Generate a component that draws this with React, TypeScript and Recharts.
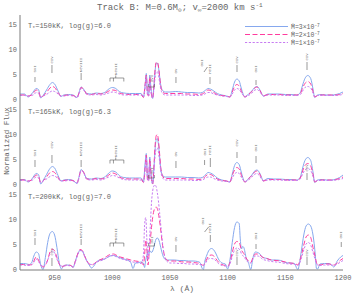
import React from 'react';
import { LineChart, Line, XAxis, YAxis, ReferenceLine, ReferenceDot, Customized } from 'recharts';

const FONT = '"Liberation Mono", "DejaVu Sans Mono", monospace';
const TXT = '#666';
const AX = '#7a7a7a';
const BLUE = '#86a8ee';
const PINK = '#ff3c9e';
const PURPLE = '#c77cf2';

// wavelength grid for the two upper panels (Å)
const waveA = [
  920, 924, 927, 930, 932, 934, 936, 938, 940, 943,
  946, 948, 950, 953, 955.5, 958, 962, 966, 969.5, 971,
  973, 975, 978, 982, 986, 990, 994, 997, 1000, 1003,
  1006, 1010, 1015, 1020, 1025, 1027, 1028.5, 1029.5, 1030.5, 1031.5,
  1032.5, 1033.5, 1035, 1036, 1037, 1038, 1039, 1040, 1041, 1042,
  1044, 1046, 1050, 1055, 1060, 1065, 1070, 1075, 1078, 1081,
  1083, 1085, 1088, 1091, 1095, 1099, 1102, 1104, 1106, 1108,
  1110, 1112, 1115, 1118, 1121, 1123, 1125.5, 1128, 1131, 1135,
  1140, 1145, 1150, 1155, 1160, 1163, 1165, 1167, 1169.5, 1172,
  1174, 1175.5, 1178, 1182, 1186, 1190, 1194, 1197, 1200,
];

// Panel 1: T=150kK, log g=6.0
const p1Mdot3 = [
  1.2, 1.2, 0.6, 1.2, 1.8, 2.3, 2.1, 0.4, 0.9, 2.0,
  3.1, 3.5, 3.2, 1.8, 0.7, 1.0, 1.1, 1.0, 0.5, 1.4,
  2.6, 2.2, 1.3, 1.2, 1.4, 1.3, 1.6, 2.2, 2.5, 2.3,
  1.7, 1.4, 1.3, 1.3, 1.3, 0.6, 3.0, 5.3, 1.5, 1.0,
  5.0, 2.5, 0.3, 2.5, 5.5, 7.3, 7.4, 6.6, 4.8, 3.0,
  1.8, 1.6, 1.6, 1.7, 1.6, 1.5, 1.5, 1.4, 1.5, 2.0,
  2.3, 2.2, 1.8, 1.3, 1.0, 0.8, 0.6, 2.0, 3.6, 4.2,
  3.8, 2.2, 0.6, 1.2, 1.8, 2.4, 2.7, 2.0, 0.8, 1.2,
  1.2, 1.2, 1.1, 1.1, 1.0, 1.5, 3.0, 4.3, 4.9, 4.3,
  2.2, 0.5, 1.0, 1.1, 1.0, 1.0, 1.1, 1.3, 1.6,
];
const p1Mdot2 = [
  1.0, 1.0, 0.8, 1.0, 1.5, 2.0, 1.8, 0.5, 0.8, 1.5,
  2.4, 2.7, 2.5, 1.5, 0.8, 0.9, 1.0, 0.9, 0.5, 1.3,
  2.5, 2.2, 1.2, 1.1, 1.3, 1.2, 1.4, 1.8, 2.0, 1.9,
  1.4, 1.2, 1.1, 1.1, 1.1, 0.5, 3.2, 5.0, 1.2, 0.8,
  4.6, 2.0, 0.3, 2.6, 5.8, 7.5, 7.6, 6.8, 4.8, 2.8,
  1.5, 1.3, 1.3, 1.3, 1.3, 1.2, 1.2, 1.1, 1.2, 1.7,
  2.0, 1.9, 1.5, 1.1, 0.9, 0.8, 0.6, 1.6, 2.7, 3.1,
  2.8, 1.7, 0.6, 1.1, 1.7, 2.3, 2.6, 1.9, 0.8, 1.1,
  1.1, 1.1, 1.0, 1.0, 1.0, 1.3, 2.4, 3.3, 3.7, 3.2,
  1.7, 0.6, 0.9, 1.0, 1.0, 1.0, 1.0, 1.1, 1.3,
];
const p1Mdot1 = [
  0.9, 0.9, 0.8, 0.9, 1.1, 1.5, 1.3, 0.6, 0.8, 1.1,
  1.6, 1.8, 1.7, 1.2, 0.8, 0.8, 0.9, 0.8, 0.5, 1.1,
  2.3, 2.0, 1.1, 1.0, 1.1, 1.0, 1.2, 1.4, 1.6, 1.5,
  1.2, 1.0, 1.0, 1.0, 1.0, 0.6, 2.5, 4.5, 1.0, 0.8,
  3.8, 1.6, 0.4, 2.0, 4.3, 5.6, 5.7, 5.0, 3.6, 2.2,
  1.2, 1.0, 1.0, 1.0, 1.0, 1.0, 0.9, 0.9, 1.0, 1.3,
  1.5, 1.5, 1.2, 1.0, 0.8, 0.7, 0.6, 1.2, 2.0, 2.3,
  2.1, 1.4, 0.7, 0.9, 1.4, 1.9, 2.1, 1.6, 0.8, 1.0,
  1.0, 1.0, 0.9, 0.9, 0.9, 1.1, 1.8, 2.5, 2.7, 2.4,
  1.4, 0.7, 0.9, 0.9, 0.9, 0.9, 0.9, 1.0, 1.1,
];

// Panel 2: T=165kK, log g=6.3
const p2Mdot3 = [
  1.1, 1.1, 0.6, 1.1, 1.8, 2.3, 2.1, 0.2, 0.9, 2.1,
  3.3, 3.7, 3.4, 1.9, 0.8, 1.0, 1.1, 0.9, 0.3, 1.5,
  3.1, 2.6, 1.3, 1.2, 1.4, 1.3, 1.7, 2.4, 2.8, 2.6,
  1.9, 1.5, 1.4, 1.4, 1.4, 0.6, 4.5, 6.3, 1.5, 1.0,
  5.6, 2.5, 0.2, 3.0, 6.8, 9.0, 9.3, 8.2, 5.8, 3.3,
  1.8, 1.6, 1.6, 1.6, 1.6, 1.5, 1.5, 1.4, 1.5, 2.1,
  2.5, 2.4, 2.0, 1.4, 1.0, 0.8, 0.6, 2.2, 3.9, 4.5,
  4.1, 2.4, 0.6, 1.3, 2.0, 2.7, 3.0, 2.3, 0.9, 1.3,
  1.2, 1.2, 1.1, 1.1, 1.0, 1.6, 3.4, 4.9, 5.5, 4.9,
  2.6, 0.5, 1.0, 1.1, 1.0, 1.0, 1.2, 1.5, 2.0,
];
const p2Mdot2 = [
  1.0, 1.0, 0.8, 1.0, 1.5, 2.0, 1.8, 0.4, 0.8, 1.6,
  2.5, 2.7, 2.5, 1.5, 0.8, 0.9, 1.0, 0.9, 0.4, 1.4,
  3.0, 2.6, 1.2, 1.1, 1.3, 1.2, 1.5, 2.0, 2.4, 2.2,
  1.6, 1.3, 1.2, 1.2, 1.2, 0.5, 3.5, 6.0, 1.2, 0.8,
  5.2, 2.2, 0.2, 3.2, 7.5, 9.8, 10.1, 9.0, 6.3, 3.5,
  1.6, 1.3, 1.3, 1.3, 1.3, 1.2, 1.2, 1.1, 1.2, 1.8,
  2.1, 2.1, 1.7, 1.2, 0.9, 0.8, 0.6, 1.9, 3.0, 3.5,
  3.2, 1.9, 0.6, 1.2, 1.9, 2.5, 2.8, 2.1, 0.8, 1.1,
  1.1, 1.1, 1.0, 1.0, 1.0, 1.4, 2.8, 3.9, 4.3, 3.8,
  2.1, 0.6, 0.9, 1.0, 1.0, 1.0, 1.1, 1.3, 1.6,
];
const p2Mdot1 = [
  0.9, 0.9, 0.8, 0.9, 1.2, 1.6, 1.4, 0.5, 0.8, 1.2,
  1.7, 1.9, 1.8, 1.3, 0.8, 0.8, 0.9, 0.8, 0.4, 1.2,
  2.9, 2.5, 1.1, 1.0, 1.1, 1.0, 1.3, 1.6, 1.9, 1.8,
  1.4, 1.1, 1.0, 1.0, 1.0, 0.6, 3.0, 5.5, 1.0, 0.8,
  4.5, 1.8, 0.3, 2.5, 5.6, 7.2, 7.4, 6.6, 4.8, 2.8,
  1.3, 1.0, 1.0, 1.0, 1.0, 1.0, 0.9, 0.9, 1.0, 1.4,
  1.6, 1.6, 1.3, 1.0, 0.8, 0.7, 0.6, 1.4, 2.2, 2.5,
  2.3, 1.5, 0.7, 1.0, 1.6, 2.1, 2.3, 1.7, 0.8, 1.0,
  1.0, 1.0, 0.9, 0.9, 0.9, 1.2, 2.2, 3.0, 3.3, 2.9,
  1.7, 0.7, 0.9, 0.9, 0.9, 0.9, 1.0, 1.1, 1.3,
];

// wavelength grid for the bottom panel (Å)
const waveB = [
  920, 923, 926, 928, 930, 932, 934, 936, 938, 940,
  942, 944, 946, 948, 950, 952, 954, 956, 958, 961,
  964, 966, 968, 970, 972, 974, 976, 978, 980, 982,
  984, 986, 989, 992, 995, 998, 1001, 1004, 1007, 1010,
  1013, 1016, 1018, 1020, 1023, 1025, 1027, 1028, 1029, 1030,
  1031, 1032, 1033, 1034, 1035, 1036, 1037, 1038, 1039, 1040,
  1041, 1042, 1044, 1046, 1048, 1050, 1054, 1058, 1062, 1066,
  1070, 1074, 1076, 1078, 1079, 1080, 1082, 1084, 1086, 1088,
  1090, 1092, 1095, 1098, 1100, 1102, 1104, 1106, 1108, 1110,
  1111, 1112, 1113, 1114, 1116, 1118, 1120, 1122, 1124, 1126,
  1128, 1130, 1134, 1138, 1142, 1146, 1150, 1154, 1158, 1160,
  1161, 1162, 1164, 1166, 1168, 1170, 1172, 1174, 1176, 1177,
  1178, 1180, 1184, 1188, 1190, 1192, 1195, 1198, 1200,
];

// Panel 3: T=200kK, log g=7.0
const p3Mdot3 = [
  1.3, 1.3, 1.2, 1.1, 1.4, 2.8, 3.6, 3.3, 1.0, 0.1,
  2.5, 5.5, 7.3, 7.7, 7.0, 4.5, 1.5, 0.2, 0.9, 1.0,
  0.9, 0.5, 1.8, 3.2, 3.9, 3.8, 2.8, 1.8, 1.0, 0.4,
  0.8, 1.5, 2.0, 2.1, 2.4, 2.8, 2.9, 2.7, 2.4, 2.2,
  2.0, 1.5, 0.3, 1.4, 1.5, 1.6, 1.4, 0.5, 2.0, 3.0,
  3.8, 3.3, 3.8, 3.5, 3.8, 4.5, 5.5, 6.2, 6.4, 6.2,
  5.5, 4.5, 2.8, 2.1, 2.0, 2.0, 2.0, 1.9, 1.9, 1.8,
  1.8, 1.7, 1.5, 0.3, 0.1, 1.5, 3.0, 4.0, 4.3, 4.0,
  3.2, 2.2, 1.4, 1.2, 0.2, 2.0, 5.5, 8.5, 9.6, 9.3,
  6.0, 4.2, 4.7, 4.5, 2.5, 1.5, 0.1, 2.5, 3.6, 3.5,
  3.2, 2.6, 2.3, 2.0, 2.0, 1.9, 1.5, 1.4, 1.3, 0.3,
  0.1, 1.0, 4.0, 7.0, 8.8, 9.2, 8.8, 7.0, 3.0, 0.3,
  0.2, 1.2, 1.3, 1.3, 1.0, 0.6, 1.8, 2.6, 2.9,
];
const p3Mdot2 = [
  1.1, 1.1, 1.0, 1.0, 1.1, 1.8, 2.6, 2.0, 1.0, 0.6,
  1.0, 2.0, 3.6, 4.2, 3.8, 2.5, 1.2, 0.6, 0.8, 1.0,
  0.9, 0.6, 1.8, 3.2, 4.1, 3.9, 2.8, 1.8, 1.2, 1.0,
  1.2, 1.6, 2.0, 2.3, 2.7, 3.1, 3.2, 2.9, 2.6, 2.4,
  2.2, 2.0, 1.9, 1.8, 1.7, 1.6, 1.0, 3.0, 6.0, 4.0,
  1.0, 3.5, 6.0, 8.5, 10.5, 11.8, 12.4, 12.6, 12.3, 11.3,
  9.8, 8.0, 4.3, 2.4, 1.9, 1.8, 1.8, 1.7, 1.6, 1.6,
  1.5, 1.4, 1.3, 1.0, 0.9, 1.3, 2.2, 2.9, 3.0, 2.8,
  2.2, 1.6, 1.1, 0.9, 0.8, 1.5, 3.5, 5.2, 5.7, 5.5,
  4.8, 4.0, 3.6, 3.3, 2.4, 1.8, 1.5, 2.5, 3.2, 3.2,
  3.0, 2.6, 2.3, 2.0, 1.9, 1.8, 1.6, 1.4, 1.3, 1.1,
  1.0, 1.5, 3.0, 5.0, 6.6, 7.0, 6.5, 4.5, 2.5, 1.5,
  1.0, 1.0, 1.2, 1.2, 1.1, 1.0, 1.4, 2.0, 2.3,
];
const p3Mdot1 = [
  1.0, 1.0, 0.9, 0.9, 1.0, 1.5, 2.2, 1.7, 1.0, 0.8,
  1.0, 2.0, 3.2, 3.8, 3.4, 2.2, 1.2, 0.8, 0.8, 0.9,
  0.8, 0.6, 1.6, 3.0, 3.9, 3.8, 2.8, 1.7, 1.2, 1.1,
  1.2, 1.5, 1.8, 2.0, 2.4, 2.8, 2.9, 2.6, 2.3, 2.1,
  1.9, 1.7, 1.6, 1.5, 1.4, 1.3, 3.0, 9.0, 10.5, 6.0,
  2.0, 5.0, 9.0, 13.5, 15.8, 16.8, 17.0, 16.7, 15.5, 13.8,
  11.5, 9.0, 4.5, 2.2, 1.6, 1.4, 1.4, 1.3, 1.3, 1.2,
  1.2, 1.1, 1.1, 1.0, 0.9, 1.1, 1.8, 2.3, 2.3, 2.2,
  1.8, 1.3, 0.9, 0.8, 0.7, 1.2, 2.7, 4.0, 4.4, 4.2,
  3.8, 3.2, 2.9, 2.7, 2.0, 1.5, 1.4, 2.2, 2.8, 2.8,
  2.6, 2.2, 1.9, 1.7, 1.6, 1.5, 1.3, 1.2, 1.1, 1.0,
  0.9, 1.2, 2.4, 4.0, 5.2, 5.5, 5.0, 3.5, 2.0, 1.3,
  1.0, 0.9, 1.0, 1.0, 1.0, 0.9, 1.2, 1.6, 1.9,
];

const panelOffset = [34, 17, 0];
const panelLabels = [
  { t: '150kK', g: '6.0' },
  { t: '165kK', g: '6.3' },
  { t: '200kK', g: '7.0' },
];
const legendLabels = ['3', '2', '1'];

const xLabelTicks = [950, 1000, 1050, 1100, 1150, 1200];
const xMajorTicks = [950, 1000, 1050, 1100, 1150];
const xMinorTicks = [930, 940, 960, 970, 980, 990, 1010, 1020, 1030, 1040, 1060, 1070, 1080, 1090, 1110, 1120, 1130, 1140, 1160, 1170, 1180, 1190];
const yMajorTicks = [0, 5, 10, 15, 17, 22, 27, 32, 34, 39, 44, 49];
const yMinorTicks = Array.from({ length: 52 }, (_, i) => i);

// line identifications: panel, wavelength, label, text y, tick top, tick bottom
const lineIds = [
  { p: 0, l: 933, t: 'SVI', ty: 6.2, y1: 4.6, y2: 3.6 },
  { p: 0, l: 947.7, t: 'CIV', ty: 8.0, y1: 7.0, y2: 5.4 },
  { p: 0, l: 973, t: 'NeVIII', ty: 7.0, y1: 5.4, y2: 4.0 },
  { p: 0, l: 1003, t: 'NeVII', ty: 6.2, y1: 4.9, y2: 4.4 },
  { p: 0, l: 1034.4, t: 'OVI', ty: 4.3 },
  { p: 0, l: 1055.2, t: 'OV', ty: 5.8, y1: 4.6, y2: 3.4 },
  { p: 0, l: 1078, t: 'OVI', ty: 7.4 },
  { p: 0, l: 1084.7, t: 'HeII', ty: 6.2, y1: 4.6, y2: 3.2 },
  { p: 0, l: 1108.1, t: 'CIV', ty: 8.0, y1: 7.0, y2: 5.6 },
  { p: 0, l: 1124.6, t: 'OVI', ty: 6.2, y1: 4.0, y2: 3.0 },
  { p: 0, l: 1168.8, t: 'CIV', ty: 8.6, y1: 7.6, y2: 6.0 },
  { p: 1, l: 933, t: 'SVI', ty: 6.4, y1: 5.0, y2: 3.6 },
  { p: 1, l: 947.7, t: 'CIV', ty: 8.0, y1: 6.0, y2: 4.4 },
  { p: 1, l: 973, t: 'NeVIII', ty: 7.2, y1: 5.0, y2: 3.6 },
  { p: 1, l: 1003, t: 'NeVII', ty: 6.8, y1: 5.5, y2: 5.0 },
  { p: 1, l: 1034.4, t: 'OVI', ty: 2.8 },
  { p: 1, l: 1055.2, t: 'OV', ty: 6.2, y1: 4.8, y2: 3.4 },
  { p: 1, l: 1080, t: 'OVI', ty: 6.6, y1: 5.0, y2: 4.0 },
  { p: 1, l: 1085, t: 'HeII', ty: 7.0, y1: 5.4, y2: 3.6 },
  { p: 1, l: 1108.1, t: 'CIV', ty: 8.4, y1: 6.6, y2: 5.4 },
  { p: 1, l: 1124.6, t: 'OVI', ty: 7.4, y1: 5.8, y2: 4.4 },
  { p: 1, l: 1168.8, t: 'CIV', ty: 3.4, y1: 2.4, y2: 1.0 },
  { p: 2, l: 933, t: 'SVI', ty: 7.4, y1: 6.4, y2: 5.0 },
  { p: 2, l: 947.7, t: 'CIV', ty: 3.6, y1: 2.4, y2: 0.8 },
  { p: 2, l: 973, t: 'NeVIII', ty: 7.8, y1: 6.2, y2: 5.0 },
  { p: 2, l: 1003, t: 'NeVII', ty: 7.2, y1: 5.9, y2: 5.4 },
  { p: 2, l: 1034.4, t: 'OVI', ty: 6.0 },
  { p: 2, l: 1055.2, t: 'OV', ty: 6.2, y1: 5.0, y2: 3.6 },
  { p: 2, l: 1079, t: 'OVI', ty: 9.8 },
  { p: 2, l: 1085, t: 'HeII', ty: 8.4, y1: 7.0, y2: 5.6 },
  { p: 2, l: 1108.1, t: 'CIV', ty: 3.4, y1: 2.6, y2: 1.0 },
  { p: 2, l: 1124.6, t: 'OVI', ty: 6.8, y1: 5.2, y2: 4.2 },
  { p: 2, l: 1168.8, t: 'CIV', ty: 3.4, y1: 2.6, y2: 1.0 },
  { p: 2, l: 1198.5, t: 'OVI', ty: 7.0, y1: 5.6, y2: 4.6 },
];
// NeVII multiplet bracket height, OVI doublet mark height, per panel
const neBracketY = [4.4, 5.0, 5.4];
const oviMarkY = [2.6, 1.4, 4.8];
// slanted leader for OVI next to HeII: [x1, y1, x2, y2]
const oviLeaders = [
  { p: 0, a: [1079.5, 5.6, 1082.5, 6.6] },
  { p: 2, a: [1080, 7.6, 1083.5, 8.6] },
];

type Def = { id: string; wave: number[]; vals: number[]; p: number; color: string; dash?: string };
const defs: Def[] = [
  { id: 'a3', wave: waveA, vals: p1Mdot3, p: 0, color: BLUE },
  { id: 'a2', wave: waveA, vals: p1Mdot2, p: 0, color: PINK, dash: '5 2.5' },
  { id: 'a1', wave: waveA, vals: p1Mdot1, p: 0, color: PURPLE, dash: '2.2 1.6' },
  { id: 'b3', wave: waveA, vals: p2Mdot3, p: 1, color: BLUE },
  { id: 'b2', wave: waveA, vals: p2Mdot2, p: 1, color: PINK, dash: '5 2.5' },
  { id: 'b1', wave: waveA, vals: p2Mdot1, p: 1, color: PURPLE, dash: '2.2 1.6' },
  { id: 'c3', wave: waveB, vals: p3Mdot3, p: 2, color: BLUE },
  { id: 'c2', wave: waveB, vals: p3Mdot2, p: 2, color: PINK, dash: '5 2.5' },
  { id: 'c1', wave: waveB, vals: p3Mdot1, p: 2, color: PURPLE, dash: '2.2 1.6' },
];
const toData = (d: Def) => d.wave.map((x, i) => ({ x, y: d.vals[i] + panelOffset[d.p] }));

const tickStyle = { fill: TXT, fontSize: 7, fontFamily: FONT };

const Overlay = () => (
  <g fontFamily={FONT} fill={TXT}>
    <text x={97} y={10} fontSize={9}>
      Track B: M=0.6M<tspan fontSize={6} dy={2}>⊙</tspan>
      <tspan dy={-2}>; v</tspan>
      <tspan fontSize={6} dy={2}>∞</tspan>
      <tspan dy={-2}>=2000 km s</tspan>
      <tspan fontSize={6} dy={-3}>-1</tspan>
    </text>
    {panelLabels.map((pl, i) => (
      <text key={i} x={28} y={[28, 114, 199][i]} fontSize={7}>
        T<tspan fontSize={5} dy={1.5}>*</tspan>
        <tspan dy={-1.5}>={pl.t}, log(g)={pl.g}</tspan>
      </text>
    ))}
    <text x={9} y={141} fontSize={7.5} textAnchor="middle" transform="rotate(-90 9 141)">Normalized Flux</text>
    <text x={182} y={291} fontSize={8} textAnchor="middle">λ (Å)</text>
    {legendLabels.map((m, i) => {
      const y = [26.5, 34.5, 42.5][i];
      const color = [BLUE, PINK, PURPLE][i];
      const dash = [undefined, '5 2.5', '2.2 1.6'][i];
      return (
        <g key={i}>
          <line x1={245} x2={288} y1={y} y2={y} stroke={color} strokeWidth={1} strokeDasharray={dash} />
          <text x={291} y={y + 2.5} fontSize={6.5}>
            Ṁ=<tspan>{m}×10</tspan><tspan fontSize={4.5} dy={-2.5}>-7</tspan>
          </text>
        </g>
      );
    })}
  </g>
);

const idText = (label: string) => (props: any) => (
  <text
    x={props.cx}
    y={props.cy}
    transform={`rotate(-90 ${props.cx} ${props.cy})`}
    textAnchor="middle"
    dominantBaseline="central"
    fontSize={4}
    fill="#777"
    fontFamily={FONT}
  >
    {label}
  </text>
);

export default function App() {
  const seg = (x1: number, y1: number, x2: number, y2: number, key: string) => (
    <ReferenceLine
      key={key}
      segment={[{ x: x1, y: y1 }, { x: x2, y: y2 }]}
      stroke="#555"
      strokeWidth={0.6}
      ifOverflow="visible"
    />
  );
  return (
    <div style={{ position: 'absolute', left: 0, top: 0, background: '#fff' }}>
      <LineChart width={353} height={294} margin={{ top: 15, right: 10, bottom: 0, left: 0 }}>
        <XAxis
          xAxisId={0}
          dataKey="x"
          type="number"
          domain={[920, 1200]}
          allowDataOverflow
          ticks={xLabelTicks}
          interval={0}
          height={24}
          tickLine={false}
          tickSize={0}
          tickMargin={5}
          axisLine={{ stroke: AX }}
          tick={tickStyle}
        />
        <XAxis xAxisId="bmaj" type="number" domain={[920, 1200]} allowDataOverflow mirror height={0} ticks={xMajorTicks} interval={0} tick={false} tickSize={5} axisLine={false} tickLine={{ stroke: AX }} />
        <XAxis xAxisId="bmin" type="number" domain={[920, 1200]} allowDataOverflow mirror height={0} ticks={xMinorTicks} interval={0} tick={false} tickSize={3} axisLine={false} tickLine={{ stroke: AX }} />
        <XAxis xAxisId="tmaj" orientation="top" type="number" domain={[920, 1200]} allowDataOverflow mirror height={0} ticks={xMajorTicks} interval={0} tick={false} tickSize={5} axisLine={{ stroke: AX }} tickLine={{ stroke: AX }} />
        <XAxis xAxisId="tmin" orientation="top" type="number" domain={[920, 1200]} allowDataOverflow mirror height={0} ticks={xMinorTicks} interval={0} tick={false} tickSize={3} axisLine={false} tickLine={{ stroke: AX }} />
        <YAxis
          yAxisId={0}
          type="number"
          domain={[0, 51]}
          allowDataOverflow
          ticks={yMajorTicks}
          interval={0}
          width={20}
          tickLine={false}
          tickSize={0}
          tickMargin={3}
          tickFormatter={(v: number) => String(v % 17)}
          axisLine={{ stroke: AX }}
          tick={tickStyle}
        />
        <YAxis yAxisId="lmaj" type="number" domain={[0, 51]} allowDataOverflow mirror width={0} ticks={yMajorTicks} interval={0} tick={false} tickSize={5} axisLine={false} tickLine={{ stroke: AX }} />
        <YAxis yAxisId="lmin" type="number" domain={[0, 51]} allowDataOverflow mirror width={0} ticks={yMinorTicks} interval={0} tick={false} tickSize={2.5} axisLine={false} tickLine={{ stroke: AX }} />
        <YAxis yAxisId="rmaj" orientation="right" type="number" domain={[0, 51]} allowDataOverflow mirror width={0} ticks={yMajorTicks} interval={0} tick={false} tickSize={5} axisLine={{ stroke: AX }} tickLine={{ stroke: AX }} />
        <YAxis yAxisId="rmin" orientation="right" type="number" domain={[0, 51]} allowDataOverflow mirror width={0} ticks={yMinorTicks} interval={0} tick={false} tickSize={2.5} axisLine={false} tickLine={{ stroke: AX }} />

        {defs.map((d) => (
          <Line
            key={d.id}
            data={toData(d)}
            dataKey="y"
            type="monotone"
            stroke={d.color}
            strokeWidth={1}
            strokeDasharray={d.dash}
            dot={false}
            activeDot={false}
            isAnimationActive={false}
          />
        ))}

        {lineIds.map((a, i) =>
          a.y1 !== undefined
            ? seg(a.l, a.y1 + panelOffset[a.p], a.l, (a.y2 as number) + panelOffset[a.p], `s${i}`)
            : null
        )}
        {neBracketY.flatMap((yb, p) => {
          const o = panelOffset[p];
          return [
            seg(998, yb + o, 1010, yb + o, `nb${p}`),
            seg(998, yb + o, 998, yb - 0.7 + o, `nl${p}`),
            seg(1001, yb + o, 1001, yb - 0.7 + o, `nm${p}`),
            seg(1010, yb + o, 1010, yb - 0.7 + o, `nr${p}`),
          ];
        })}
        {oviMarkY.flatMap((ym, p) => {
          const o = panelOffset[p];
          return [
            seg(1031.5, ym + o, 1036.5, ym + o, `ob${p}`),
            seg(1031.5, ym + o, 1031.5, ym + 0.6 + o, `ol${p}`),
            seg(1036.5, ym + o, 1036.5, ym + 0.6 + o, `or${p}`),
          ];
        })}
        {oviLeaders.map((o, i) =>
          seg(o.a[0], o.a[1] + panelOffset[o.p], o.a[2], o.a[3] + panelOffset[o.p], `ld${i}`)
        )}
        {lineIds.map((a, i) => (
          <ReferenceDot
            key={`t${i}`}
            x={a.l}
            y={a.ty + panelOffset[a.p]}
            r={0}
            ifOverflow="visible"
            shape={idText(a.t)}
          />
        ))}
        <Customized component={Overlay} />
      </LineChart>
    </div>
  );
}
